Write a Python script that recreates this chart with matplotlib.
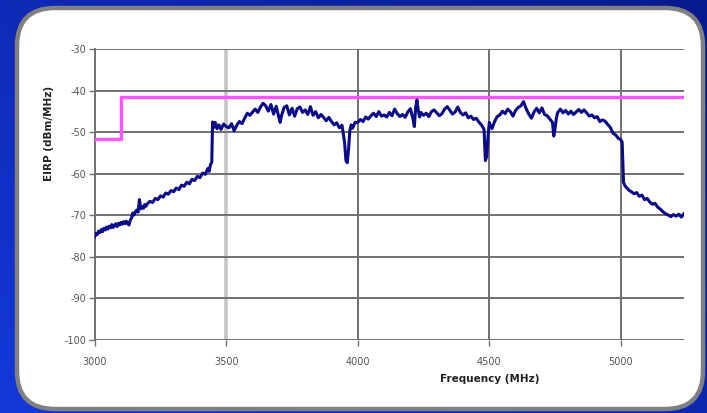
import numpy as np
import matplotlib
matplotlib.use("Agg")
import matplotlib.pyplot as plt
from matplotlib.patches import FancyBboxPatch

# Measured EIRP spectrum (MHz, dBm/MHz)
freq_mhz = [
    3000, 3005, 3010, 3015, 3020, 3025, 3030, 3035, 3040, 3045, 3050, 3055, 3060, 3065, 3070, 3075,
    3080, 3085, 3090, 3095, 3100, 3105, 3110, 3115, 3120, 3125, 3130, 3135, 3140, 3145, 3150, 3155,
    3160, 3165, 3170, 3175, 3180, 3185, 3190, 3195, 3200, 3210, 3220, 3230, 3240, 3250, 3260, 3270,
    3280, 3290, 3300, 3310, 3320, 3330, 3340, 3350, 3360, 3370, 3380, 3390, 3400, 3410, 3420, 3430,
    3435, 3440, 3445, 3448, 3452, 3458, 3465, 3472, 3480, 3490, 3500, 3510, 3520, 3530, 3540, 3550,
    3560, 3570, 3580, 3590, 3600, 3610, 3620, 3630, 3640, 3650, 3660, 3670, 3680, 3690, 3700, 3705,
    3710, 3720, 3730, 3740, 3750, 3760, 3770, 3780, 3790, 3800, 3810, 3820, 3830, 3840, 3850, 3860,
    3870, 3880, 3890, 3900, 3910, 3920, 3930, 3940, 3950, 3955, 3960, 3965, 3970, 3975, 3980, 3990,
    4000, 4010, 4020, 4030, 4040, 4050, 4060, 4070, 4080, 4090, 4100, 4110, 4120, 4130, 4140, 4150,
    4160, 4170, 4180, 4190, 4200, 4205, 4210, 4215, 4220, 4225, 4230, 4235, 4240, 4250, 4260, 4270,
    4280, 4290, 4300, 4310, 4320, 4330, 4340, 4350, 4360, 4370, 4380, 4390, 4400, 4410, 4420, 4430,
    4440, 4450, 4460, 4470, 4480, 4485, 4490, 4495, 4500, 4505, 4510, 4520, 4530, 4540, 4550, 4560,
    4570, 4580, 4590, 4600, 4610, 4620, 4630, 4640, 4650, 4660, 4670, 4680, 4690, 4700, 4710, 4720,
    4730, 4740, 4745, 4750, 4755, 4760, 4770, 4780, 4790, 4800, 4810, 4820, 4830, 4840, 4850, 4860,
    4870, 4880, 4890, 4900, 4910, 4920, 4930, 4940, 4950, 4960, 4970, 4980, 4990, 5000, 5005, 5010,
    5015, 5020, 5030, 5040, 5050, 5060, 5070, 5080, 5090, 5100, 5110, 5120, 5130, 5140, 5150, 5160,
    5170, 5180, 5190, 5200, 5210, 5220, 5230, 5240,
]
eirp_dbm = [
    -75.2, -74.3, -74.6, -73.8, -74.1, -73.4, -73.9, -73.1, -73.5, -72.8, -73.3, -72.6, -73.0, -72.2, -72.9, -72.4,
    -72.0, -72.7, -71.9, -72.3, -71.7, -72.1, -71.5, -72.0, -71.4, -71.9, -72.3, -71.2, -70.6, -69.4, -69.9, -69.1,
    -68.7, -69.2, -66.2, -68.4, -67.9, -68.3, -67.4, -67.8, -67.2, -66.6, -66.9, -65.9, -66.2, -65.3, -65.6, -64.6,
    -64.9, -64.0, -64.3, -63.4, -63.8, -62.7, -63.0, -62.0, -62.4, -61.3, -61.6, -60.6, -60.9, -59.8, -60.1, -58.7,
    -59.4, -57.8, -57.2, -47.5, -48.9, -47.6, -49.1, -48.2, -49.3, -48.0, -48.6, -48.9, -47.9, -49.6, -48.3, -47.4,
    -47.9, -46.6, -45.4, -45.9, -45.1, -44.4, -45.2, -43.9, -43.0, -43.6, -44.9, -43.3, -45.6, -43.7, -46.4, -47.6,
    -46.0, -44.0, -43.6, -45.8, -44.2, -46.1, -44.3, -43.9, -45.2, -44.6, -45.7, -43.8, -45.9, -45.0, -46.5, -45.7,
    -46.4, -47.2, -46.4, -47.4, -48.2, -47.7, -48.9, -48.3, -52.5, -56.8, -57.3, -54.0, -49.5, -48.2, -49.0, -47.6,
    -47.6, -46.9, -47.4, -46.3, -46.8, -46.0, -45.4, -46.2, -45.0, -46.1, -45.8, -46.3, -45.2, -46.0, -44.4, -45.5,
    -46.2, -45.7, -46.4, -45.1, -44.3, -45.6, -46.8, -48.6, -44.0, -42.2, -44.8, -46.3, -45.2, -45.9, -45.4, -46.2,
    -45.0, -44.6, -45.3, -46.0, -45.5, -44.4, -43.8, -44.7, -45.6, -45.1, -43.9, -45.2, -45.8, -45.3, -46.5, -46.1,
    -46.9, -46.6, -47.5, -48.2, -49.3, -56.8, -55.8, -51.0, -47.6, -48.5, -49.1, -47.4, -46.2, -45.8, -44.9, -45.5,
    -44.4, -45.0, -46.1, -44.7, -44.0, -43.6, -42.6, -44.3, -45.6, -46.6, -45.1, -44.2, -45.3, -44.1, -45.7, -46.0,
    -46.8, -47.6, -50.9, -49.0, -46.5, -45.2, -44.4, -45.3, -44.7, -45.6, -44.9, -45.7, -45.1, -44.5, -45.2, -44.6,
    -45.3, -46.1, -45.8, -46.5, -46.2, -47.4, -47.0, -47.3, -48.1, -48.8, -50.2, -50.6, -51.4, -51.8, -52.4, -62.0,
    -62.8, -63.2, -63.9, -64.3, -64.8, -64.5, -65.4, -65.1, -66.2, -65.9, -66.8, -67.3, -67.1, -68.0, -68.5, -69.1,
    -69.6, -69.9, -70.3, -69.8, -70.2, -69.7, -70.4, -69.6,
]

# Emission limit mask (step)
mask_freq = [3000, 3100, 3100, 5240]
mask_level = [-51.5, -51.5, -41.4, -41.4]

x_ticks = [3000, 3500, 4000, 4500, 5000]
y_ticks = [-30, -40, -50, -60, -70, -80, -90, -100]

W, H, DPI = 707, 413, 100
fig = plt.figure(figsize=(W / DPI, H / DPI), dpi=DPI)

# Blue slide background with a soft diagonal gradient
bg = fig.add_axes([0, 0, 1, 1])
bg.set_xlim(0, W)
bg.set_ylim(0, H)
bg.axis("off")
gx, gy = np.meshgrid(np.linspace(0, 1, 200), np.linspace(0, 1, 120))
t = np.clip(0.55 * gx + 0.45 * gy, 0, 1)  # gy=1 at top
c_light = np.array([0.08, 0.22, 0.85])
c_dark = np.array([0.03, 0.10, 0.55])
img = c_light[None, None, :] * (1 - t[..., None]) + c_dark[None, None, :] * t[..., None]
bg.imshow(img, extent=[0, W, 0, H], origin="lower", aspect="auto", zorder=0)

# White rounded panel
panel = FancyBboxPatch((17 + 38, 4 + 38), W - 17 - 4 - 76, H - 4 - 8 - 76,
                       boxstyle="round,pad=38", facecolor="white",
                       edgecolor="#808080", linewidth=3.2, zorder=1)
bg.add_patch(panel)

# Chart axes
ax = fig.add_axes([94.7 / W, 1 - 340 / H, (684 - 94.7) / W, (340 - 49.3) / H])
ax.set_facecolor("white")
ax.set_xlim(3000, 5240)
ax.set_ylim(-100, -30)
ax.set_xticks(x_ticks)
ax.set_yticks(y_ticks)
ax.set_xticklabels([str(v) for v in x_ticks])
ax.set_yticklabels([str(v) for v in y_ticks])

ax.grid(True, color="#707070", linewidth=1.4)
ax.xaxis.get_gridlines()[1].set_color("#c4c4c4")
ax.xaxis.get_gridlines()[1].set_linewidth(2.6)
ax.set_axisbelow(True)

for side in ("top", "right", "bottom"):
    ax.spines[side].set_visible(False)
ax.spines["left"].set_color("#707070")
ax.spines["left"].set_linewidth(1.4)

ax.tick_params(axis="both", colors="#707070", length=4, width=1.0,
               labelsize=7, labelcolor="#555555")
ax.tick_params(axis="x", pad=8)
ax.tick_params(axis="y", pad=2)
for lab in ax.get_xticklabels() + ax.get_yticklabels():
    lab.set_family("Liberation Sans Narrow")

ax.plot(mask_freq, mask_level, color="#ff55ff", linewidth=2.4, zorder=3,
        solid_joinstyle="miter")
ax.plot(freq_mhz, eirp_dbm, color="#0a0a8a", linewidth=2.2, zorder=4)

fig.text(490 / W, 1 - 379 / H, "Frequency (MHz)", ha="center", va="center",
         fontsize=7.5, fontweight="bold", color="#222222",
         family="Liberation Sans Narrow")
fig.text(49 / W, 1 - 133 / H, "EIRP (dBm/MHz)", ha="center", va="center",
         rotation=90, fontsize=7.5, fontweight="bold", color="#222222",
         family="Liberation Sans Narrow")

fig.savefig("out.png", dpi=DPI)
